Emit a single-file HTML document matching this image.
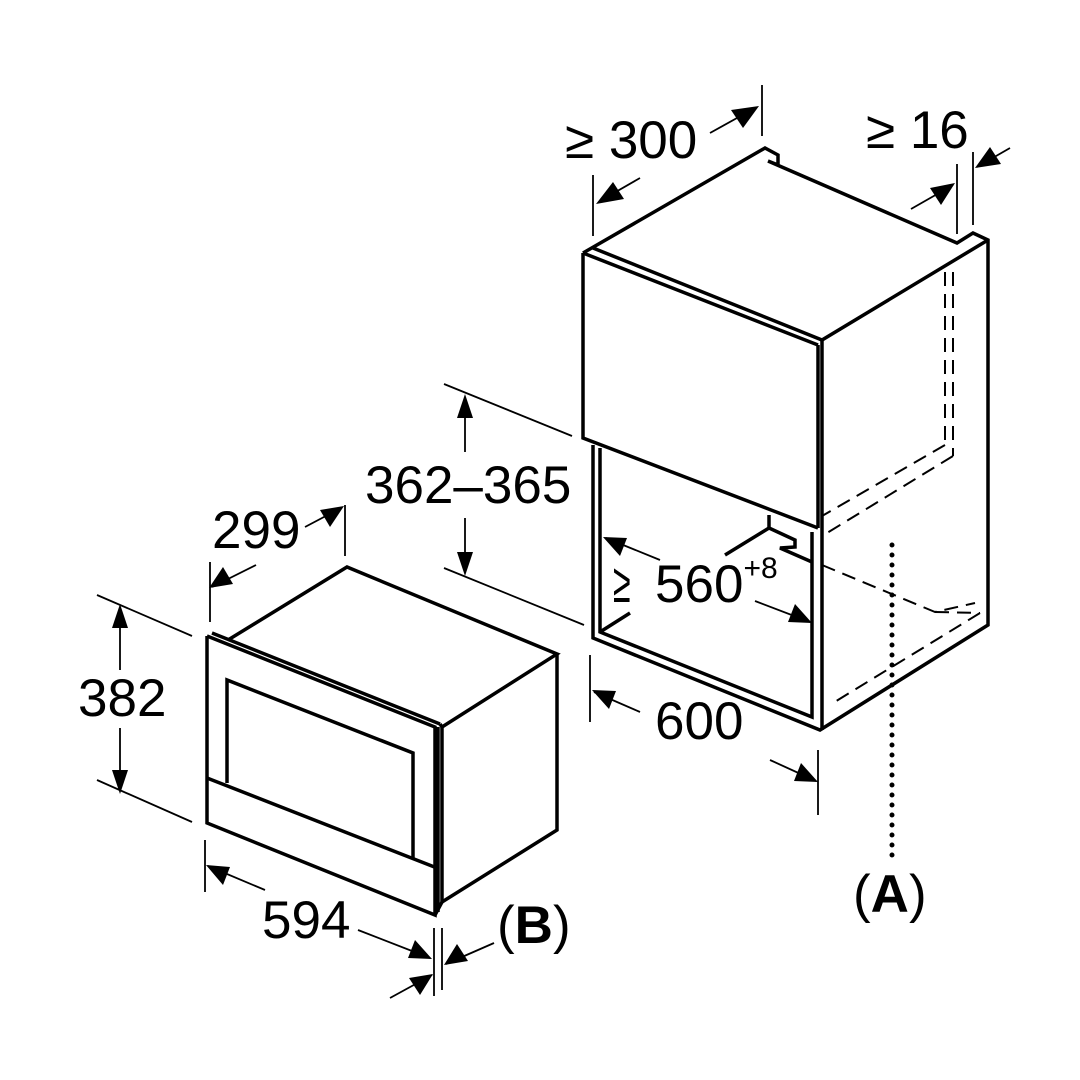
<!DOCTYPE html>
<html><head><meta charset="utf-8"><style>
html,body{margin:0;padding:0;background:#fff;}
svg{display:block;font-family:"Liberation Sans",Arial,sans-serif;}
</style></head><body>
<svg width="1080" height="1080" viewBox="0 0 1080 1080" xmlns="http://www.w3.org/2000/svg">
<g fill="none" stroke="#000" stroke-width="3.5" stroke-linejoin="miter">
<polyline points="583,253 765,148 778,155 778,165 768,161 957,243 973,233 988,240 988,625 820,730 593,638 593,445"/>
<polyline points="583,253 583,438 818,528"/>
<line x1="583" y1="253" x2="818" y2="345"/>
<polyline points="593,248 822,340 988,240"/>
<line x1="818" y1="345" x2="818" y2="528"/>
<line x1="822" y1="340" x2="822" y2="730"/>
<polyline points="600,448 600,632 812,717 812,532"/>
<line x1="600" y1="632" x2="630" y2="613"/>
<polyline points="769,515 769,528 795,540 795,547 780,548 812,562"/>
<line x1="725" y1="555" x2="769" y2="528"/>
<polyline points="207,636 207,823 435,915 435,727 207,636"/>
<line x1="212" y1="633" x2="440" y2="724"/>
<polyline points="440,724 442,727 442,902 435,915"/>
<line x1="438" y1="727" x2="438" y2="912"/>
<polyline points="228,640 347,567 557,654 442,727"/>
<polyline points="557,654 557,830 442,902"/>
<polyline points="227,783 227,680 413,753 413,858"/>
<line x1="207" y1="778" x2="437" y2="868"/>
</g>
<g fill="none" stroke="#000" stroke-width="2" stroke-dasharray="14,8">
<line x1="945" y1="272" x2="945" y2="445"/>
<line x1="953" y1="272" x2="953" y2="456"/>
<line x1="945" y1="445" x2="822" y2="516"/>
<line x1="953" y1="456" x2="827" y2="533"/>
<polyline points="822,565 935,612 975,603"/>
<line x1="980" y1="613" x2="833" y2="703"/>
<line x1="935" y1="612" x2="980" y2="613"/>
</g>
<line x1="892" y1="545" x2="892" y2="858" stroke="#000" stroke-width="5" stroke-dasharray="0,10" stroke-linecap="round"/>
<g stroke="#000" stroke-width="1.8" fill="none">
<line x1="593" y1="175" x2="593" y2="236"/>
<line x1="762" y1="85" x2="762" y2="136"/>
<line x1="640" y1="178" x2="600" y2="201"/>
<line x1="710" y1="133" x2="755" y2="108"/>
<line x1="957" y1="164" x2="957" y2="234"/>
<line x1="973" y1="152" x2="973" y2="225"/>
<line x1="911" y1="209" x2="953" y2="185"/>
<line x1="1010" y1="148" x2="977" y2="167"/>
<line x1="444" y1="384" x2="572" y2="436"/>
<line x1="444" y1="568" x2="584" y2="625"/>
<line x1="465" y1="398" x2="465" y2="452"/>
<line x1="465" y1="518" x2="465" y2="572"/>
<line x1="660" y1="560" x2="606" y2="538"/>
<line x1="755" y1="601" x2="810" y2="622"/>
<line x1="590" y1="655" x2="590" y2="722"/>
<line x1="818" y1="750" x2="818" y2="815"/>
<line x1="640" y1="712" x2="594" y2="692"/>
<line x1="770" y1="760" x2="816" y2="781"/>
<line x1="210" y1="562" x2="210" y2="622"/>
<line x1="345" y1="505" x2="345" y2="556"/>
<line x1="256" y1="565" x2="212" y2="587"/>
<line x1="305" y1="527" x2="341" y2="508"/>
<line x1="97" y1="595" x2="192" y2="636"/>
<line x1="97" y1="780" x2="192" y2="822"/>
<line x1="120" y1="608" x2="120" y2="670"/>
<line x1="120" y1="728" x2="120" y2="790"/>
<line x1="205" y1="840" x2="205" y2="892"/>
<line x1="434" y1="928" x2="434" y2="996"/>
<line x1="442" y1="928" x2="442" y2="990"/>
<line x1="265" y1="890" x2="208" y2="866"/>
<line x1="358" y1="930" x2="430" y2="958"/>
<line x1="390" y1="998" x2="432" y2="975"/>
<line x1="494" y1="943" x2="446" y2="964"/>
</g>
<g fill="#000">
<polygon points="596,204 613,182 624,199"/>
<polygon points="759,106 743,128 731,110"/>
<polygon points="955,183 941,205 930,188"/>
<polygon points="975,168 990,147 1001,164"/>
<polygon points="465,394 457,418 473,418"/>
<polygon points="465,576 457,552 473,552"/>
<polygon points="603,537 627,538 620,556"/>
<polygon points="812,623 788,622 795,604"/>
<polygon points="592,690 616,691 609,709"/>
<polygon points="818,782 794,781 801,763"/>
<polygon points="209,588 223,567 233,584"/>
<polygon points="344,506 330,527 320,510"/>
<polygon points="120,604 112,628 128,628"/>
<polygon points="120,794 112,770 128,770"/>
<polygon points="206,865 230,867 223,885"/>
<polygon points="432,959 408,958 415,940"/>
<polygon points="433,974 420,995 409,978"/>
<polygon points="444,965 457,944 468,961"/>
</g>
<g font-size="53" fill="#000">
<text x="565" y="158">≥ 300</text>
<text x="866" y="148">≥ 16</text>
<text x="365" y="503">362–365</text>
<text x="212" y="548">299</text>
<text x="78" y="716">382</text>
<text x="262" y="938">594</text>
<text x="655" y="739">600</text>
<text x="655" y="602">560<tspan font-size="30" dy="-24">+8</tspan></text>
<text transform="translate(613,602) scale(0.8,1.4)" font-size="40">≥</text>
<text x="497" y="943">(<tspan font-weight="bold">B</tspan>)</text>
<text x="853" y="912">(<tspan font-weight="bold">A</tspan>)</text>
</g>
</svg>
</body></html>
